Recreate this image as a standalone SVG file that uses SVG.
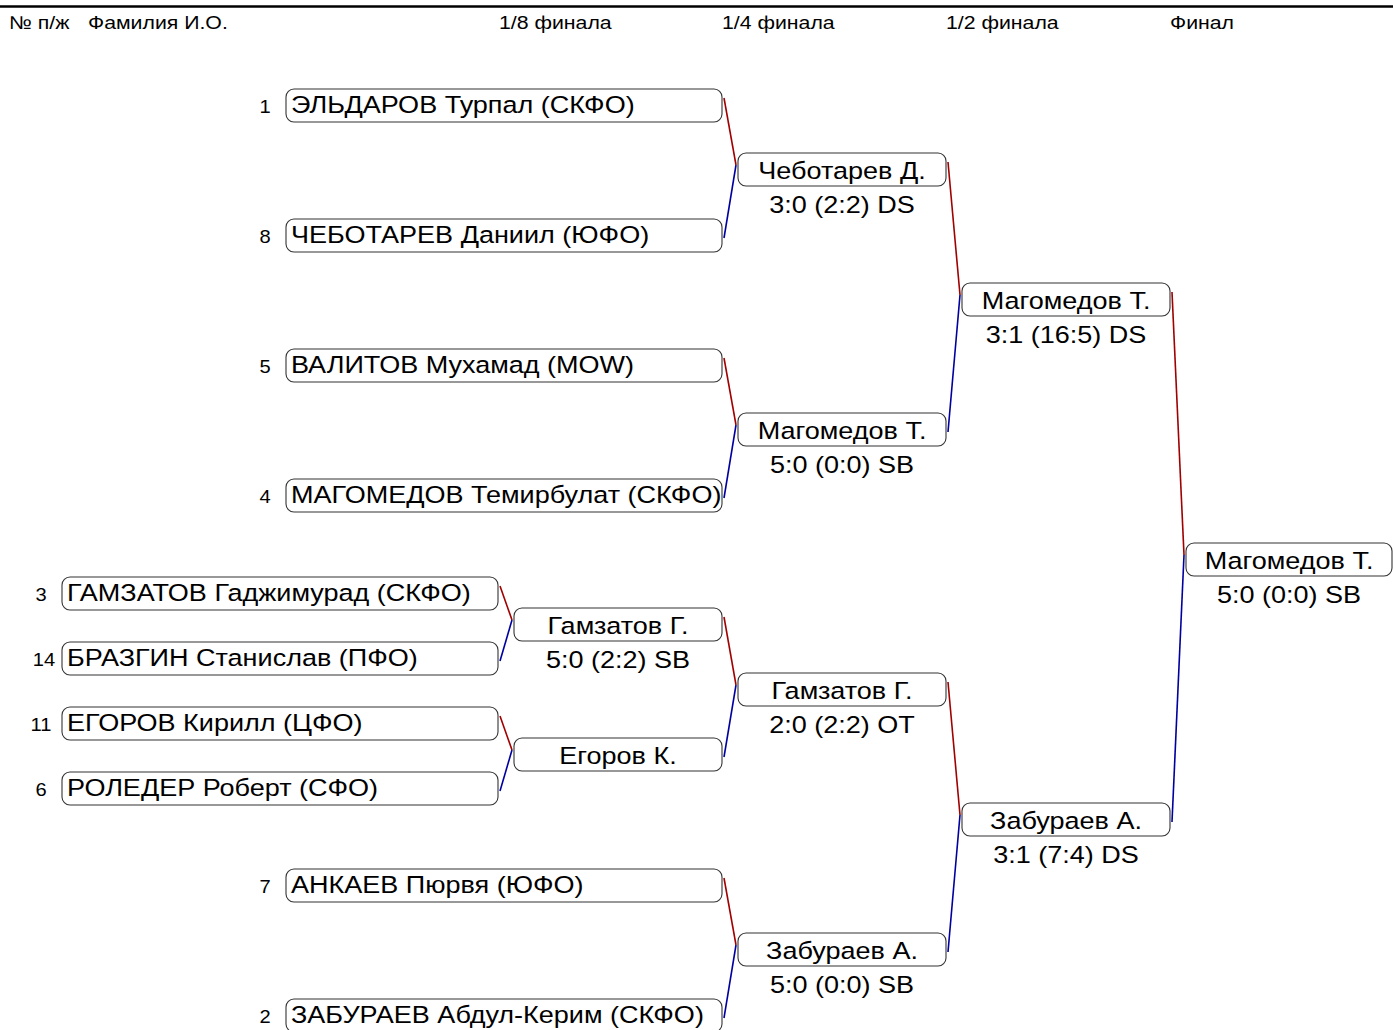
<svg xmlns="http://www.w3.org/2000/svg" width="1393" height="1030" viewBox="0 0 1393 1030">
<style>
text{font-family:"Liberation Sans",Arial,sans-serif;fill:#000}
.n{font-size:23.5px}
.w{font-size:23.5px;text-anchor:middle}
.h{font-size:18.5px}
.s{font-size:17.5px;text-anchor:middle}
.b{fill:#fff;stroke:#333;stroke-width:1.1}
.r{stroke:#a00000;stroke-width:1.6;fill:none}
.u{stroke:#0000a0;stroke-width:1.6;fill:none}
</style>
<rect width="1393" height="1030" fill="#fff"/>
<g id="header">
<line x1="0" y1="6.5" x2="1393" y2="6.5" stroke="#000" stroke-width="2.5"/>
<text class="h" transform="translate(9,29) scale(1.15,1)">№ п/ж</text>
<text class="h" transform="translate(88,29) scale(1.15,1)">Фамилия И.О.</text>
<text class="h" transform="translate(499,29) scale(1.15,1)">1/8 финала</text>
<text class="h" transform="translate(722,29) scale(1.15,1)">1/4 финала</text>
<text class="h" transform="translate(946,29) scale(1.15,1)">1/2 финала</text>
<text class="h" transform="translate(1170,29) scale(1.15,1)">Финал</text>
</g>
<g id="connectors">
<polyline class="r" points="500,586 512,620"/><polyline class="u" points="512,620 500,661"/>
<polyline class="r" points="500,716 512,750"/><polyline class="u" points="512,750 500,791"/>
<polyline class="r" points="724,98 736,165"/><polyline class="u" points="736,165 724,238"/>
<polyline class="r" points="724,358 736,425"/><polyline class="u" points="736,425 724,498"/>
<polyline class="r" points="724,617 736,685"/><polyline class="u" points="736,685 724,757"/>
<polyline class="r" points="724,878 736,945"/><polyline class="u" points="736,945 724,1018"/>
<polyline class="r" points="948,162 960,295"/><polyline class="u" points="960,295 948,432"/>
<polyline class="r" points="948,682 960,815"/><polyline class="u" points="960,815 948,952"/>
<polyline class="r" points="1172,292 1184,555"/><polyline class="u" points="1184,555 1172,822"/>
</g>
<g id="p1"><text class="s" transform="translate(265,113) scale(1.15,1)">1</text><rect class="b" x="286" y="89" width="436" height="33" rx="8"/><text class="n" transform="translate(291,113) scale(1.15,1)">ЭЛЬДАРОВ Турпал (СКФО)</text></g>
<g id="p8"><text class="s" transform="translate(265,243) scale(1.15,1)">8</text><rect class="b" x="286" y="219" width="436" height="33" rx="8"/><text class="n" transform="translate(291,243) scale(1.15,1)">ЧЕБОТАРЕВ Даниил (ЮФО)</text></g>
<g id="p5"><text class="s" transform="translate(265,373) scale(1.15,1)">5</text><rect class="b" x="286" y="349" width="436" height="33" rx="8"/><text class="n" transform="translate(291,373) scale(1.15,1)">ВАЛИТОВ Мухамад (MOW)</text></g>
<g id="p4"><text class="s" transform="translate(265,503) scale(1.15,1)">4</text><rect class="b" x="286" y="479" width="436" height="33" rx="8"/><text class="n" transform="translate(291,503) scale(1.15,1)">МАГОМЕДОВ Темирбулат (СКФО)</text></g>
<g id="p7"><text class="s" transform="translate(265,893) scale(1.15,1)">7</text><rect class="b" x="286" y="869" width="436" height="33" rx="8"/><text class="n" transform="translate(291,893) scale(1.15,1)">АНКАЕВ Пюрвя (ЮФО)</text></g>
<g id="p2"><text class="s" transform="translate(265,1023) scale(1.15,1)">2</text><rect class="b" x="286" y="999" width="436" height="33" rx="8"/><text class="n" transform="translate(291,1023) scale(1.15,1)">ЗАБУРАЕВ Абдул-Керим (СКФО)</text></g>
<g id="p3"><text class="s" transform="translate(41,601) scale(1.15,1)">3</text><rect class="b" x="62" y="577" width="436" height="33" rx="8"/><text class="n" transform="translate(67,601) scale(1.15,1)">ГАМЗАТОВ Гаджимурад (СКФО)</text></g>
<g id="p14"><text class="s" transform="translate(44,666) scale(1.15,1)">14</text><rect class="b" x="62" y="642" width="436" height="33" rx="8"/><text class="n" transform="translate(67,666) scale(1.15,1)">БРАЗГИН Станислав (ПФО)</text></g>
<g id="p11"><text class="s" transform="translate(41,731) scale(1.15,1)">11</text><rect class="b" x="62" y="707" width="436" height="33" rx="8"/><text class="n" transform="translate(67,731) scale(1.15,1)">ЕГОРОВ Кирилл (ЦФО)</text></g>
<g id="p6"><text class="s" transform="translate(41,796) scale(1.15,1)">6</text><rect class="b" x="62" y="772" width="436" height="33" rx="8"/><text class="n" transform="translate(67,796) scale(1.15,1)">РОЛЕДЕР Роберт (СФО)</text></g>
<g id="r16a"><rect class="b" x="514" y="608" width="208" height="33" rx="8"/><text class="w" transform="translate(618,634) scale(1.15,1)">Гамзатов Г.</text><text class="w" transform="translate(618,668) scale(1.15,1)">5:0 (2:2) SB</text></g>
<g id="r16b"><rect class="b" x="514" y="738" width="208" height="33" rx="8"/><text class="w" transform="translate(618,764) scale(1.15,1)">Егоров К.</text></g>
<g id="qf1"><rect class="b" x="738" y="153" width="208" height="33" rx="8"/><text class="w" transform="translate(842,179) scale(1.15,1)">Чеботарев Д.</text><text class="w" transform="translate(842,213) scale(1.15,1)">3:0 (2:2) DS</text></g>
<g id="qf2"><rect class="b" x="738" y="413" width="208" height="33" rx="8"/><text class="w" transform="translate(842,439) scale(1.15,1)">Магомедов Т.</text><text class="w" transform="translate(842,473) scale(1.15,1)">5:0 (0:0) SB</text></g>
<g id="qf3"><rect class="b" x="738" y="673" width="208" height="33" rx="8"/><text class="w" transform="translate(842,699) scale(1.15,1)">Гамзатов Г.</text><text class="w" transform="translate(842,733) scale(1.15,1)">2:0 (2:2) OT</text></g>
<g id="qf4"><rect class="b" x="738" y="933" width="208" height="33" rx="8"/><text class="w" transform="translate(842,959) scale(1.15,1)">Забураев А.</text><text class="w" transform="translate(842,993) scale(1.15,1)">5:0 (0:0) SB</text></g>
<g id="sf1"><rect class="b" x="962" y="283" width="208" height="33" rx="8"/><text class="w" transform="translate(1066,309) scale(1.15,1)">Магомедов Т.</text><text class="w" transform="translate(1066,343) scale(1.15,1)">3:1 (16:5) DS</text></g>
<g id="sf2"><rect class="b" x="962" y="803" width="208" height="33" rx="8"/><text class="w" transform="translate(1066,829) scale(1.15,1)">Забураев А.</text><text class="w" transform="translate(1066,863) scale(1.15,1)">3:1 (7:4) DS</text></g>
<g id="final"><rect class="b" x="1186" y="543" width="206" height="33" rx="8"/><text class="w" transform="translate(1289,569) scale(1.15,1)">Магомедов Т.</text><text class="w" transform="translate(1289,603) scale(1.15,1)">5:0 (0:0) SB</text></g>
</svg>
